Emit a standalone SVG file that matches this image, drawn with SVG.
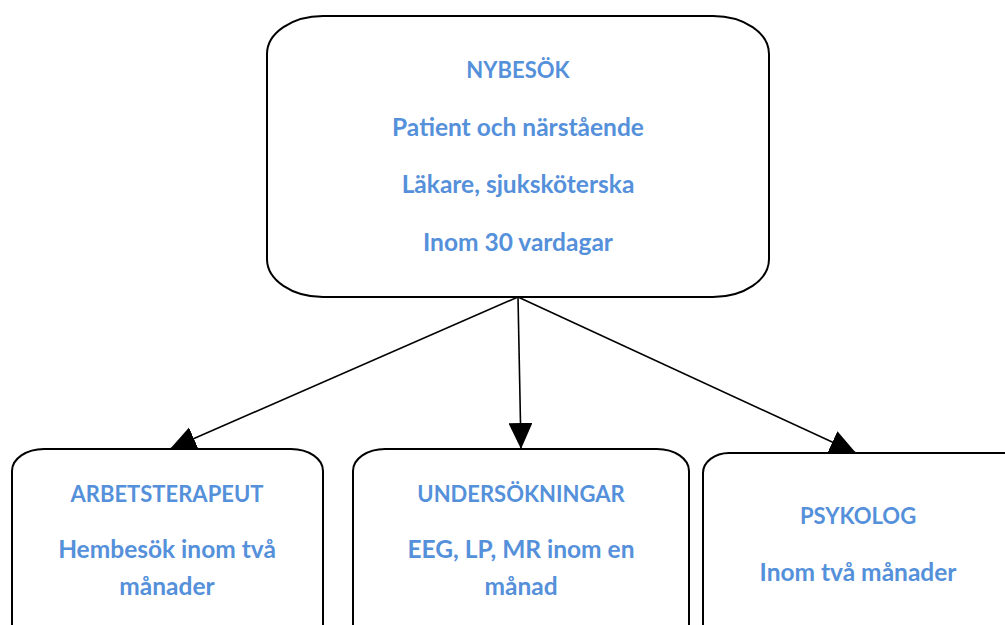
<svg xmlns="http://www.w3.org/2000/svg" width="1005" height="625" viewBox="0 0 1005 625">
  <style>
    .box { fill: #ffffff; stroke: #000000; stroke-width: 2; }
    .lbl { font-family: Lato, "Open Sans", "Liberation Sans", sans-serif; font-weight: bold; font-size: 24.5px; fill: #5590DA; text-anchor: middle; }
    .cap { font-size: 22px; }
    .edge { stroke: #000000; stroke-width: 1.6; fill: none; marker-end: url(#arrow); }
  </style>
  <defs>
    <marker id="arrow" markerUnits="userSpaceOnUse" markerWidth="27" markerHeight="26" refX="26" refY="12" orient="auto">
      <path d="M0,0 L26,12 L0,24 Z" fill="#000000"/>
    </marker>
  </defs>
  <rect width="1005" height="625" fill="#ffffff"/>

  <g id="connectors">
    <line class="edge" x1="518" y1="297" x2="170" y2="449"/>
    <line class="edge" x1="518" y1="297" x2="521" y2="449"/>
    <line class="edge" x1="518" y1="297" x2="856" y2="453"/>
  </g>

  <g id="nybesok">
    <rect class="box" x="267" y="16" width="502" height="281" rx="56" ry="38"/>
    <text class="lbl cap" x="518" y="78">NYBESÖK</text>
    <text class="lbl" x="518" y="136">Patient och närstående</text>
    <text class="lbl" x="518" y="193">Läkare, sjuksköterska</text>
    <text class="lbl" x="518" y="251">Inom 30 vardagar</text>
  </g>

  <g id="arbetsterapeut">
    <rect class="box" x="12" y="449" width="311" height="260" rx="32" ry="22"/>
    <text class="lbl cap" x="167" y="502">ARBETSTERAPEUT</text>
    <text class="lbl" x="167" y="558">Hembesök inom två</text>
    <text class="lbl" x="167" y="595">månader</text>
  </g>

  <g id="undersokningar">
    <rect class="box" x="353" y="449" width="336" height="260" rx="32" ry="22"/>
    <text class="lbl cap" x="521" y="502">UNDERSÖKNINGAR</text>
    <text class="lbl" x="521" y="558">EEG, LP, MR inom en</text>
    <text class="lbl" x="521" y="595">månad</text>
  </g>

  <g id="psykolog">
    <rect class="box" x="703" y="453" width="330" height="260" rx="26" ry="20"/>
    <text class="lbl cap" x="858" y="524">PSYKOLOG</text>
    <text class="lbl" x="858" y="581">Inom två månader</text>
  </g>
</svg>
